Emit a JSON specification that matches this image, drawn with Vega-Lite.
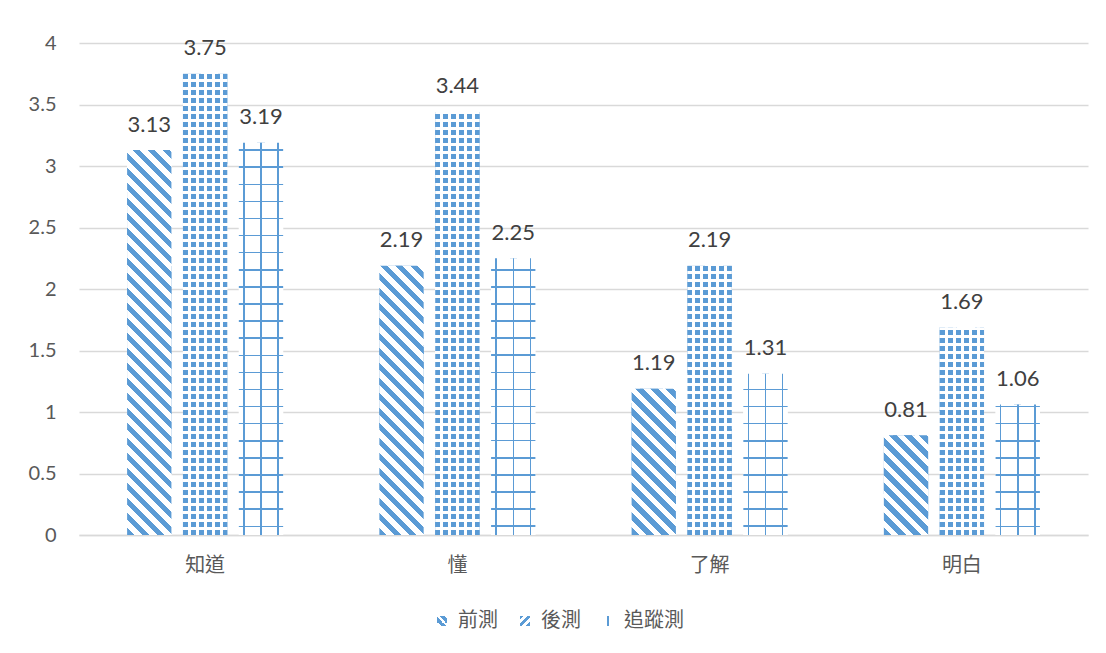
{
  "$schema": "https://vega.github.io/schema/vega-lite/v6.json",
  "autosize": {"type": "none"},
  "padding": {"left": 79, "top": 43, "right": 18, "bottom": 118},
  "width": 1009,
  "height": 492,
  "background": "#ffffff",
  "config": {"view": {"stroke": null}, "font": "Lato"},
  "params": [
    {"name": "sD", "value": [
      {"offset":0,"color":"#5b9bd5"},{"offset":0.0125,"color":"#5b9bd5"},{"offset":0.0125,"color":"#fff"},{"offset":0.025,"color":"#fff"},
      {"offset":0.025,"color":"#5b9bd5"},{"offset":0.0375,"color":"#5b9bd5"},{"offset":0.0375,"color":"#fff"},{"offset":0.05,"color":"#fff"},
      {"offset":0.05,"color":"#5b9bd5"},{"offset":0.0625,"color":"#5b9bd5"},{"offset":0.0625,"color":"#fff"},{"offset":0.075,"color":"#fff"},
      {"offset":0.075,"color":"#5b9bd5"},{"offset":0.0875,"color":"#5b9bd5"},{"offset":0.0875,"color":"#fff"},{"offset":0.1,"color":"#fff"},
      {"offset":0.1,"color":"#5b9bd5"},{"offset":0.1125,"color":"#5b9bd5"},{"offset":0.1125,"color":"#fff"},{"offset":0.125,"color":"#fff"},
      {"offset":0.125,"color":"#5b9bd5"},{"offset":0.1375,"color":"#5b9bd5"},{"offset":0.1375,"color":"#fff"},{"offset":0.15,"color":"#fff"},
      {"offset":0.15,"color":"#5b9bd5"},{"offset":0.1625,"color":"#5b9bd5"},{"offset":0.1625,"color":"#fff"},{"offset":0.175,"color":"#fff"},
      {"offset":0.175,"color":"#5b9bd5"},{"offset":0.1875,"color":"#5b9bd5"},{"offset":0.1875,"color":"#fff"},{"offset":0.2,"color":"#fff"},
      {"offset":0.2,"color":"#5b9bd5"},{"offset":0.2125,"color":"#5b9bd5"},{"offset":0.2125,"color":"#fff"},{"offset":0.225,"color":"#fff"},
      {"offset":0.225,"color":"#5b9bd5"},{"offset":0.2375,"color":"#5b9bd5"},{"offset":0.2375,"color":"#fff"},{"offset":0.25,"color":"#fff"},
      {"offset":0.25,"color":"#5b9bd5"},{"offset":0.2625,"color":"#5b9bd5"},{"offset":0.2625,"color":"#fff"},{"offset":0.275,"color":"#fff"},
      {"offset":0.275,"color":"#5b9bd5"},{"offset":0.2875,"color":"#5b9bd5"},{"offset":0.2875,"color":"#fff"},{"offset":0.3,"color":"#fff"},
      {"offset":0.3,"color":"#5b9bd5"},{"offset":0.3125,"color":"#5b9bd5"},{"offset":0.3125,"color":"#fff"},{"offset":0.325,"color":"#fff"},
      {"offset":0.325,"color":"#5b9bd5"},{"offset":0.3375,"color":"#5b9bd5"},{"offset":0.3375,"color":"#fff"},{"offset":0.35,"color":"#fff"},
      {"offset":0.35,"color":"#5b9bd5"},{"offset":0.3625,"color":"#5b9bd5"},{"offset":0.3625,"color":"#fff"},{"offset":0.375,"color":"#fff"},
      {"offset":0.375,"color":"#5b9bd5"},{"offset":0.3875,"color":"#5b9bd5"},{"offset":0.3875,"color":"#fff"},{"offset":0.4,"color":"#fff"},
      {"offset":0.4,"color":"#5b9bd5"},{"offset":0.4125,"color":"#5b9bd5"},{"offset":0.4125,"color":"#fff"},{"offset":0.425,"color":"#fff"},
      {"offset":0.425,"color":"#5b9bd5"},{"offset":0.4375,"color":"#5b9bd5"},{"offset":0.4375,"color":"#fff"},{"offset":0.45,"color":"#fff"},
      {"offset":0.45,"color":"#5b9bd5"},{"offset":0.4625,"color":"#5b9bd5"},{"offset":0.4625,"color":"#fff"},{"offset":0.475,"color":"#fff"},
      {"offset":0.475,"color":"#5b9bd5"},{"offset":0.4875,"color":"#5b9bd5"},{"offset":0.4875,"color":"#fff"},{"offset":0.5,"color":"#fff"},
      {"offset":0.5,"color":"#5b9bd5"},{"offset":0.5125,"color":"#5b9bd5"},{"offset":0.5125,"color":"#fff"},{"offset":0.525,"color":"#fff"},
      {"offset":0.525,"color":"#5b9bd5"},{"offset":0.5375,"color":"#5b9bd5"},{"offset":0.5375,"color":"#fff"},{"offset":0.55,"color":"#fff"},
      {"offset":0.55,"color":"#5b9bd5"},{"offset":0.5625,"color":"#5b9bd5"},{"offset":0.5625,"color":"#fff"},{"offset":0.575,"color":"#fff"},
      {"offset":0.575,"color":"#5b9bd5"},{"offset":0.5875,"color":"#5b9bd5"},{"offset":0.5875,"color":"#fff"},{"offset":0.6,"color":"#fff"},
      {"offset":0.6,"color":"#5b9bd5"},{"offset":0.6125,"color":"#5b9bd5"},{"offset":0.6125,"color":"#fff"},{"offset":0.625,"color":"#fff"},
      {"offset":0.625,"color":"#5b9bd5"},{"offset":0.6375,"color":"#5b9bd5"},{"offset":0.6375,"color":"#fff"},{"offset":0.65,"color":"#fff"},
      {"offset":0.65,"color":"#5b9bd5"},{"offset":0.6625,"color":"#5b9bd5"},{"offset":0.6625,"color":"#fff"},{"offset":0.675,"color":"#fff"},
      {"offset":0.675,"color":"#5b9bd5"},{"offset":0.6875,"color":"#5b9bd5"},{"offset":0.6875,"color":"#fff"},{"offset":0.7,"color":"#fff"},
      {"offset":0.7,"color":"#5b9bd5"},{"offset":0.7125,"color":"#5b9bd5"},{"offset":0.7125,"color":"#fff"},{"offset":0.725,"color":"#fff"}
    ]},
    {"name": "sP", "value": [
      {"offset":0,"color":"#5b9bd5"},{"offset":0.01,"color":"#5b9bd5"},{"offset":0.01,"color":"#fff"},{"offset":0.016,"color":"#fff"},
      {"offset":0.016,"color":"#5b9bd5"},{"offset":0.026,"color":"#5b9bd5"},{"offset":0.026,"color":"#fff"},{"offset":0.032,"color":"#fff"},
      {"offset":0.032,"color":"#5b9bd5"},{"offset":0.042,"color":"#5b9bd5"},{"offset":0.042,"color":"#fff"},{"offset":0.048,"color":"#fff"},
      {"offset":0.048,"color":"#5b9bd5"},{"offset":0.058,"color":"#5b9bd5"},{"offset":0.058,"color":"#fff"},{"offset":0.064,"color":"#fff"},
      {"offset":0.064,"color":"#5b9bd5"},{"offset":0.074,"color":"#5b9bd5"},{"offset":0.074,"color":"#fff"},{"offset":0.08,"color":"#fff"},
      {"offset":0.08,"color":"#5b9bd5"},{"offset":0.09,"color":"#5b9bd5"},{"offset":0.09,"color":"#fff"},{"offset":0.096,"color":"#fff"},
      {"offset":0.096,"color":"#5b9bd5"},{"offset":0.106,"color":"#5b9bd5"},{"offset":0.106,"color":"#fff"},{"offset":0.112,"color":"#fff"},
      {"offset":0.112,"color":"#5b9bd5"},{"offset":0.122,"color":"#5b9bd5"},{"offset":0.122,"color":"#fff"},{"offset":0.128,"color":"#fff"},
      {"offset":0.128,"color":"#5b9bd5"},{"offset":0.138,"color":"#5b9bd5"},{"offset":0.138,"color":"#fff"},{"offset":0.144,"color":"#fff"},
      {"offset":0.144,"color":"#5b9bd5"},{"offset":0.154,"color":"#5b9bd5"},{"offset":0.154,"color":"#fff"},{"offset":0.16,"color":"#fff"},
      {"offset":0.16,"color":"#5b9bd5"},{"offset":0.17,"color":"#5b9bd5"},{"offset":0.17,"color":"#fff"},{"offset":0.176,"color":"#fff"},
      {"offset":0.176,"color":"#5b9bd5"},{"offset":0.186,"color":"#5b9bd5"},{"offset":0.186,"color":"#fff"},{"offset":0.192,"color":"#fff"},
      {"offset":0.192,"color":"#5b9bd5"},{"offset":0.202,"color":"#5b9bd5"},{"offset":0.202,"color":"#fff"},{"offset":0.208,"color":"#fff"},
      {"offset":0.208,"color":"#5b9bd5"},{"offset":0.218,"color":"#5b9bd5"},{"offset":0.218,"color":"#fff"},{"offset":0.224,"color":"#fff"},
      {"offset":0.224,"color":"#5b9bd5"},{"offset":0.234,"color":"#5b9bd5"},{"offset":0.234,"color":"#fff"},{"offset":0.24,"color":"#fff"},
      {"offset":0.24,"color":"#5b9bd5"},{"offset":0.25,"color":"#5b9bd5"},{"offset":0.25,"color":"#fff"},{"offset":0.256,"color":"#fff"},
      {"offset":0.256,"color":"#5b9bd5"},{"offset":0.266,"color":"#5b9bd5"},{"offset":0.266,"color":"#fff"},{"offset":0.272,"color":"#fff"},
      {"offset":0.272,"color":"#5b9bd5"},{"offset":0.282,"color":"#5b9bd5"},{"offset":0.282,"color":"#fff"},{"offset":0.288,"color":"#fff"},
      {"offset":0.288,"color":"#5b9bd5"},{"offset":0.298,"color":"#5b9bd5"},{"offset":0.298,"color":"#fff"},{"offset":0.304,"color":"#fff"},
      {"offset":0.304,"color":"#5b9bd5"},{"offset":0.314,"color":"#5b9bd5"},{"offset":0.314,"color":"#fff"},{"offset":0.32,"color":"#fff"},
      {"offset":0.32,"color":"#5b9bd5"},{"offset":0.33,"color":"#5b9bd5"},{"offset":0.33,"color":"#fff"},{"offset":0.336,"color":"#fff"},
      {"offset":0.336,"color":"#5b9bd5"},{"offset":0.346,"color":"#5b9bd5"},{"offset":0.346,"color":"#fff"},{"offset":0.352,"color":"#fff"},
      {"offset":0.352,"color":"#5b9bd5"},{"offset":0.362,"color":"#5b9bd5"},{"offset":0.362,"color":"#fff"},{"offset":0.368,"color":"#fff"},
      {"offset":0.368,"color":"#5b9bd5"},{"offset":0.378,"color":"#5b9bd5"},{"offset":0.378,"color":"#fff"},{"offset":0.384,"color":"#fff"},
      {"offset":0.384,"color":"#5b9bd5"},{"offset":0.394,"color":"#5b9bd5"},{"offset":0.394,"color":"#fff"},{"offset":0.4,"color":"#fff"},
      {"offset":0.4,"color":"#5b9bd5"},{"offset":0.41,"color":"#5b9bd5"},{"offset":0.41,"color":"#fff"},{"offset":0.416,"color":"#fff"},
      {"offset":0.416,"color":"#5b9bd5"},{"offset":0.426,"color":"#5b9bd5"},{"offset":0.426,"color":"#fff"},{"offset":0.432,"color":"#fff"},
      {"offset":0.432,"color":"#5b9bd5"},{"offset":0.442,"color":"#5b9bd5"},{"offset":0.442,"color":"#fff"},{"offset":0.448,"color":"#fff"},
      {"offset":0.448,"color":"#5b9bd5"},{"offset":0.458,"color":"#5b9bd5"},{"offset":0.458,"color":"#fff"},{"offset":0.464,"color":"#fff"},
      {"offset":0.464,"color":"#5b9bd5"},{"offset":0.474,"color":"#5b9bd5"},{"offset":0.474,"color":"#fff"},{"offset":0.48,"color":"#fff"},
      {"offset":0.48,"color":"#5b9bd5"},{"offset":0.49,"color":"#5b9bd5"},{"offset":0.49,"color":"#fff"},{"offset":0.496,"color":"#fff"},
      {"offset":0.496,"color":"#5b9bd5"},{"offset":0.506,"color":"#5b9bd5"},{"offset":0.506,"color":"#fff"},{"offset":0.512,"color":"#fff"},
      {"offset":0.512,"color":"#5b9bd5"},{"offset":0.522,"color":"#5b9bd5"},{"offset":0.522,"color":"#fff"},{"offset":0.528,"color":"#fff"},
      {"offset":0.528,"color":"#5b9bd5"},{"offset":0.538,"color":"#5b9bd5"},{"offset":0.538,"color":"#fff"},{"offset":0.544,"color":"#fff"},
      {"offset":0.544,"color":"#5b9bd5"},{"offset":0.554,"color":"#5b9bd5"},{"offset":0.554,"color":"#fff"},{"offset":0.56,"color":"#fff"},
      {"offset":0.56,"color":"#5b9bd5"},{"offset":0.57,"color":"#5b9bd5"},{"offset":0.57,"color":"#fff"},{"offset":0.576,"color":"#fff"},
      {"offset":0.576,"color":"#5b9bd5"},{"offset":0.586,"color":"#5b9bd5"},{"offset":0.586,"color":"#fff"},{"offset":0.592,"color":"#fff"},
      {"offset":0.592,"color":"#5b9bd5"},{"offset":0.602,"color":"#5b9bd5"},{"offset":0.602,"color":"#fff"},{"offset":0.608,"color":"#fff"},
      {"offset":0.608,"color":"#5b9bd5"},{"offset":0.618,"color":"#5b9bd5"},{"offset":0.618,"color":"#fff"},{"offset":0.624,"color":"#fff"},
      {"offset":0.624,"color":"#5b9bd5"},{"offset":0.634,"color":"#5b9bd5"},{"offset":0.634,"color":"#fff"},{"offset":0.64,"color":"#fff"},
      {"offset":0.64,"color":"#5b9bd5"},{"offset":0.65,"color":"#5b9bd5"},{"offset":0.65,"color":"#fff"},{"offset":0.656,"color":"#fff"},
      {"offset":0.656,"color":"#5b9bd5"},{"offset":0.666,"color":"#5b9bd5"},{"offset":0.666,"color":"#fff"},{"offset":0.672,"color":"#fff"},
      {"offset":0.672,"color":"#5b9bd5"},{"offset":0.682,"color":"#5b9bd5"},{"offset":0.682,"color":"#fff"},{"offset":0.688,"color":"#fff"},
      {"offset":0.688,"color":"#5b9bd5"},{"offset":0.698,"color":"#5b9bd5"},{"offset":0.698,"color":"#fff"},{"offset":0.704,"color":"#fff"},
      {"offset":0.704,"color":"#5b9bd5"},{"offset":0.714,"color":"#5b9bd5"},{"offset":0.714,"color":"#fff"},{"offset":0.72,"color":"#fff"},
      {"offset":0.72,"color":"#5b9bd5"},{"offset":0.73,"color":"#5b9bd5"},{"offset":0.73,"color":"#fff"},{"offset":0.736,"color":"#fff"},
      {"offset":0.736,"color":"#5b9bd5"},{"offset":0.746,"color":"#5b9bd5"},{"offset":0.746,"color":"#fff"},{"offset":0.752,"color":"#fff"},
      {"offset":0.752,"color":"#5b9bd5"},{"offset":0.762,"color":"#5b9bd5"},{"offset":0.762,"color":"#fff"},{"offset":0.768,"color":"#fff"},
      {"offset":0.768,"color":"#5b9bd5"},{"offset":0.778,"color":"#5b9bd5"},{"offset":0.778,"color":"#fff"},{"offset":0.784,"color":"#fff"},
      {"offset":0.784,"color":"#5b9bd5"},{"offset":0.794,"color":"#5b9bd5"},{"offset":0.794,"color":"#fff"},{"offset":0.8,"color":"#fff"},
      {"offset":0.8,"color":"#5b9bd5"},{"offset":0.81,"color":"#5b9bd5"},{"offset":0.81,"color":"#fff"},{"offset":0.816,"color":"#fff"},
      {"offset":0.816,"color":"#5b9bd5"},{"offset":0.826,"color":"#5b9bd5"},{"offset":0.826,"color":"#fff"},{"offset":0.832,"color":"#fff"},
      {"offset":0.832,"color":"#5b9bd5"},{"offset":0.842,"color":"#5b9bd5"},{"offset":0.842,"color":"#fff"},{"offset":0.848,"color":"#fff"},
      {"offset":0.848,"color":"#5b9bd5"},{"offset":0.858,"color":"#5b9bd5"},{"offset":0.858,"color":"#fff"},{"offset":0.864,"color":"#fff"},
      {"offset":0.864,"color":"#5b9bd5"},{"offset":0.874,"color":"#5b9bd5"},{"offset":0.874,"color":"#fff"},{"offset":0.88,"color":"#fff"},
      {"offset":0.88,"color":"#5b9bd5"},{"offset":0.89,"color":"#5b9bd5"},{"offset":0.89,"color":"#fff"},{"offset":0.896,"color":"#fff"},
      {"offset":0.896,"color":"#5b9bd5"},{"offset":0.906,"color":"#5b9bd5"},{"offset":0.906,"color":"#fff"},{"offset":0.912,"color":"#fff"},
      {"offset":0.912,"color":"#5b9bd5"},{"offset":0.922,"color":"#5b9bd5"},{"offset":0.922,"color":"#fff"},{"offset":0.928,"color":"#fff"}
    ]},
    {"name": "sG", "value": [
      {"offset":0.016,"color":"#fff"},{"offset":0.016,"color":"#5b9bd5"},{"offset":0.019,"color":"#5b9bd5"},{"offset":0.019,"color":"#fff"},
      {"offset":0.0502,"color":"#fff"},{"offset":0.0502,"color":"#5b9bd5"},{"offset":0.0532,"color":"#5b9bd5"},{"offset":0.0532,"color":"#fff"},
      {"offset":0.0844,"color":"#fff"},{"offset":0.0844,"color":"#5b9bd5"},{"offset":0.0874,"color":"#5b9bd5"},{"offset":0.0874,"color":"#fff"},
      {"offset":0.1186,"color":"#fff"},{"offset":0.1186,"color":"#5b9bd5"},{"offset":0.1216,"color":"#5b9bd5"},{"offset":0.1216,"color":"#fff"},
      {"offset":0.1528,"color":"#fff"},{"offset":0.1528,"color":"#5b9bd5"},{"offset":0.1558,"color":"#5b9bd5"},{"offset":0.1558,"color":"#fff"},
      {"offset":0.187,"color":"#fff"},{"offset":0.187,"color":"#5b9bd5"},{"offset":0.19,"color":"#5b9bd5"},{"offset":0.19,"color":"#fff"},
      {"offset":0.2212,"color":"#fff"},{"offset":0.2212,"color":"#5b9bd5"},{"offset":0.2242,"color":"#5b9bd5"},{"offset":0.2242,"color":"#fff"},
      {"offset":0.2554,"color":"#fff"},{"offset":0.2554,"color":"#5b9bd5"},{"offset":0.2584,"color":"#5b9bd5"},{"offset":0.2584,"color":"#fff"},
      {"offset":0.2896,"color":"#fff"},{"offset":0.2896,"color":"#5b9bd5"},{"offset":0.2926,"color":"#5b9bd5"},{"offset":0.2926,"color":"#fff"},
      {"offset":0.3238,"color":"#fff"},{"offset":0.3238,"color":"#5b9bd5"},{"offset":0.3268,"color":"#5b9bd5"},{"offset":0.3268,"color":"#fff"},
      {"offset":0.358,"color":"#fff"},{"offset":0.358,"color":"#5b9bd5"},{"offset":0.361,"color":"#5b9bd5"},{"offset":0.361,"color":"#fff"},
      {"offset":0.3922,"color":"#fff"},{"offset":0.3922,"color":"#5b9bd5"},{"offset":0.3952,"color":"#5b9bd5"},{"offset":0.3952,"color":"#fff"},
      {"offset":0.4264,"color":"#fff"},{"offset":0.4264,"color":"#5b9bd5"},{"offset":0.4294,"color":"#5b9bd5"},{"offset":0.4294,"color":"#fff"},
      {"offset":0.4606,"color":"#fff"},{"offset":0.4606,"color":"#5b9bd5"},{"offset":0.4636,"color":"#5b9bd5"},{"offset":0.4636,"color":"#fff"},
      {"offset":0.4948,"color":"#fff"},{"offset":0.4948,"color":"#5b9bd5"},{"offset":0.4978,"color":"#5b9bd5"},{"offset":0.4978,"color":"#fff"},
      {"offset":0.529,"color":"#fff"},{"offset":0.529,"color":"#5b9bd5"},{"offset":0.532,"color":"#5b9bd5"},{"offset":0.532,"color":"#fff"},
      {"offset":0.5632,"color":"#fff"},{"offset":0.5632,"color":"#5b9bd5"},{"offset":0.5662,"color":"#5b9bd5"},{"offset":0.5662,"color":"#fff"},
      {"offset":0.5974,"color":"#fff"},{"offset":0.5974,"color":"#5b9bd5"},{"offset":0.6004,"color":"#5b9bd5"},{"offset":0.6004,"color":"#fff"},
      {"offset":0.6316,"color":"#fff"},{"offset":0.6316,"color":"#5b9bd5"},{"offset":0.6346,"color":"#5b9bd5"},{"offset":0.6346,"color":"#fff"},
      {"offset":0.6658,"color":"#fff"},{"offset":0.6658,"color":"#5b9bd5"},{"offset":0.6688,"color":"#5b9bd5"},{"offset":0.6688,"color":"#fff"},
      {"offset":0.7,"color":"#fff"},{"offset":0.7,"color":"#5b9bd5"},{"offset":0.703,"color":"#5b9bd5"},{"offset":0.703,"color":"#fff"},
      {"offset":0.7342,"color":"#fff"},{"offset":0.7342,"color":"#5b9bd5"},{"offset":0.7372,"color":"#5b9bd5"},{"offset":0.7372,"color":"#fff"},
      {"offset":0.7684,"color":"#fff"},{"offset":0.7684,"color":"#5b9bd5"},{"offset":0.7714,"color":"#5b9bd5"},{"offset":0.7714,"color":"#fff"}
    ]}
  ],
  "data": {"values": [
    {"cat": "知道", "series": "前測", "value": 3.13},
    {"cat": "知道", "series": "後測", "value": 3.75},
    {"cat": "知道", "series": "追蹤測", "value": 3.19},
    {"cat": "懂", "series": "前測", "value": 2.19},
    {"cat": "懂", "series": "後測", "value": 3.44},
    {"cat": "懂", "series": "追蹤測", "value": 2.25},
    {"cat": "了解", "series": "前測", "value": 1.19},
    {"cat": "了解", "series": "後測", "value": 2.19},
    {"cat": "了解", "series": "追蹤測", "value": 1.31},
    {"cat": "明白", "series": "前測", "value": 0.81},
    {"cat": "明白", "series": "後測", "value": 1.69},
    {"cat": "明白", "series": "追蹤測", "value": 1.06}
  ]},
  "encoding": {
    "x": {
      "field": "cat", "type": "nominal",
      "scale": {"domain": ["知道", "懂", "了解", "明白"], "paddingInner": 0.3814, "paddingOuter": 0.1907},
      "axis": {
        "title": null, "labelAngle": 0, "ticks": false, "tickSize": 0,
        "domain": true, "domainColor": "#d9d9d9", "domainWidth": 1.3,
        "labelFont": "Noto Sans CJK TC", "labelFontSize": 20, "labelColor": "#595959",
        "labelPadding": 20, "grid": false
      }
    },
    "xOffset": {
      "field": "series", "type": "nominal",
      "scale": {"domain": ["前測", "後測", "追蹤測"], "paddingInner": 0.2068, "paddingOuter": 0}
    },
    "y": {
      "field": "value", "type": "quantitative",
      "scale": {"domain": [0, 4], "nice": false, "zero": true},
      "axis": {
        "title": null, "values": [0, 0.5, 1, 1.5, 2, 2.5, 3, 3.5, 4], "format": "~g",
        "domain": false, "ticks": false, "tickSize": 0,
        "grid": true, "gridColor": "#d9d9d9", "gridWidth": 1.3,
        "labelFont": "Lato", "labelFontSize": 20, "labelColor": "#595959", "labelPadding": 23
      }
    }
  },
  "layer": [
    {
      "mark": {"type": "bar"},
      "encoding": {
        "fill": {
          "field": "series", "type": "nominal",
          "scale": {"domain": ["前測", "後測", "追蹤測"], "range": [
            {"expr": "{gradient:'linear',x1:0,y1:1,x2:1,y2:0,stops:[{offset:0,color:'#fff'},{offset:0.2,color:'#fff'},{offset:0.2,color:'#5b9bd5'},{offset:0.45,color:'#5b9bd5'},{offset:0.45,color:'#fff'},{offset:0.6,color:'#fff'},{offset:0.6,color:'#5b9bd5'},{offset:0.85,color:'#5b9bd5'},{offset:0.85,color:'#fff'},{offset:1,color:'#fff'}]}"},
            {"expr": "{gradient:'linear',x1:0,y1:0,x2:1,y2:1,stops:[{offset:0,color:'#5b9bd5'},{offset:0.2,color:'#5b9bd5'},{offset:0.2,color:'#fff'},{offset:0.4,color:'#fff'},{offset:0.4,color:'#5b9bd5'},{offset:0.6,color:'#5b9bd5'},{offset:0.6,color:'#fff'},{offset:0.8,color:'#fff'},{offset:0.8,color:'#5b9bd5'},{offset:1,color:'#5b9bd5'}]}"},
            {"expr": "{gradient:'linear',x1:0,y1:0,x2:1,y2:0,stops:[{offset:0,color:'#fff'},{offset:0.42,color:'#fff'},{offset:0.42,color:'#5b9bd5'},{offset:0.58,color:'#5b9bd5'},{offset:0.58,color:'#fff'},{offset:1,color:'#fff'}]}"}
          ]},
          "legend": {
            "orient": "none", "legendX": 353, "legendY": 568, "direction": "horizontal",
            "title": null, "symbolType": "square", "symbolSize": 100, "symbolStrokeWidth": 0,
            "labelFont": "Noto Sans CJK TC", "labelFontSize": 20, "labelColor": "#595959",
            "labelOffset": 6, "columnPadding": 17
          }
        }
      }
    },
    {
      "transform": [{"filter": "datum.series === '前測'"}],
      "mark": {"type": "bar"},
      "encoding": {
        "fill": {"value": {"expr": "{gradient:'linear',x1:0,y1:1,x2:600*44.3/(1962.49+pow(datum.value*123,2)),y2:1-600*datum.value*123/(1962.49+pow(datum.value*123,2)),stops:sD}"}}
      }
    },
    {
      "transform": [{"filter": "datum.series === '後測'"}],
      "mark": {"type": "bar"},
      "encoding": {
        "fill": {"value": {"expr": "{gradient:'linear',x1:0,y1:1,x2:0,y2:1-500/(datum.value*123),stops:sP}"}}
      }
    },
    {
      "transform": [{"filter": "datum.series === '後測'"}],
      "mark": {"type": "bar"},
      "encoding": {
        "fill": {"value": {"gradient": "linear", "x1": 0, "y1": 0, "x2": 1, "y2": 0, "stops": [
          {"offset":0.1129,"color":"rgba(255,255,255,0)"},{"offset":0.1129,"color":"#fff"},{"offset":0.1806,"color":"#fff"},{"offset":0.1806,"color":"rgba(255,255,255,0)"},
          {"offset":0.2935,"color":"rgba(255,255,255,0)"},{"offset":0.2935,"color":"#fff"},{"offset":0.3612,"color":"#fff"},{"offset":0.3612,"color":"rgba(255,255,255,0)"},
          {"offset":0.474,"color":"rgba(255,255,255,0)"},{"offset":0.474,"color":"#fff"},{"offset":0.5418,"color":"#fff"},{"offset":0.5418,"color":"rgba(255,255,255,0)"},
          {"offset":0.6546,"color":"rgba(255,255,255,0)"},{"offset":0.6546,"color":"#fff"},{"offset":0.7223,"color":"#fff"},{"offset":0.7223,"color":"rgba(255,255,255,0)"},
          {"offset":0.8352,"color":"rgba(255,255,255,0)"},{"offset":0.8352,"color":"#fff"},{"offset":0.9029,"color":"#fff"},{"offset":0.9029,"color":"rgba(255,255,255,0)"}
        ]}}
      }
    },
    {
      "transform": [{"filter": "datum.series === '追蹤測'"}],
      "mark": {"type": "bar"},
      "encoding": {
        "fill": {"value": {"expr": "{gradient:'linear',x1:0,y1:1,x2:0,y2:1-500/(datum.value*123),stops:sG}"}}
      }
    },
    {
      "transform": [{"filter": "datum.series === '追蹤測'"}],
      "mark": {"type": "bar"},
      "encoding": {
        "fill": {"value": {"gradient": "linear", "x1": 0, "y1": 0, "x2": 1, "y2": 0, "stops": [
          {"offset":0.0959,"color":"rgba(255,255,255,0)"},{"offset":0.0959,"color":"#5b9bd5"},{"offset":0.1298,"color":"#5b9bd5"},{"offset":0.1298,"color":"rgba(255,255,255,0)"},
          {"offset":0.4887,"color":"rgba(255,255,255,0)"},{"offset":0.4887,"color":"#5b9bd5"},{"offset":0.5226,"color":"#5b9bd5"},{"offset":0.5226,"color":"rgba(255,255,255,0)"},
          {"offset":0.8725,"color":"rgba(255,255,255,0)"},{"offset":0.8725,"color":"#5b9bd5"},{"offset":0.9063,"color":"#5b9bd5"},{"offset":0.9063,"color":"rgba(255,255,255,0)"}
        ]}}
      }
    },
    {
      "mark": {"type": "text", "baseline": "alphabetic", "dy": -18.5, "font": "Lato", "fontSize": 22, "color": "#404040"},
      "encoding": {
        "text": {"field": "value", "type": "quantitative", "format": ".2f"}
      }
    }
  ]
}
